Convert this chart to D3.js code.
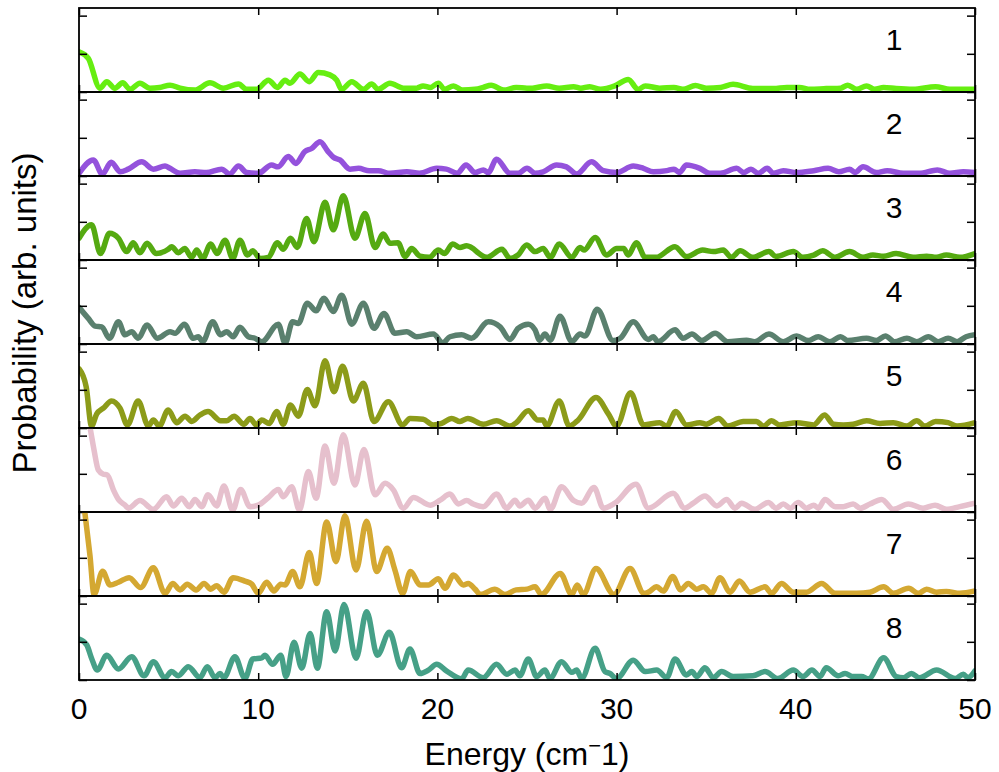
<!DOCTYPE html>
<html>
<head>
<meta charset="utf-8">
<script src="https://cdn.jsdelivr.net/npm/d3@7"></script>
<style>
  body { margin: 0; background: #fff; }
  text { font-family: "Liberation Sans", Arial, Helvetica, sans-serif; fill: #000; }
</style>
</head>
<body>
<div id="app"></div>
<script>
// energy ticks and y ticks
const xTicks = [0, 10, 20, 30, 40, 50]
const yTicks = [0, 1, 2]
const panelLabels = ["1", "2", "3", "4", "5", "6", "7", "8"]
const colors = ["#66ee11", "#9452dc", "#55aa11", "#5a806e", "#8c9b19", "#e6c0cd", "#d4a832", "#46a087"]

// [energy, probability]
const s1 = [[0,1.05],[0.52,0.88],[1.17,0.1],[1.55,0.27],[2.0,0.1],[2.44,0.24],[2.85,0.07],[3.4,0.23],[3.96,0.1],[4.5,0.12],[5.08,0.18],[5.64,0.1],[6.47,0.05],[7.31,0.24],[8.05,0.1],[8.9,0.21],[9.36,0.07],[9.9,0.07],[10.57,0.31],[11.07,0.12],[11.5,0.31],[11.77,0.23],[12.33,0.47],[12.85,0.27],[13.35,0.51],[14.0,0.45],[14.38,0.31],[14.66,0.07],[15.22,0.27],[15.87,0.07],[16.33,0.21],[16.7,0.07],[17.35,0.23],[18.1,0.1],[18.84,0.1],[19.2,0.16],[19.6,0.12],[20.05,0.23],[20.4,0.07],[20.9,0.16],[21.4,0.05],[22.1,0.07],[22.56,0.12],[23.0,0.18],[23.7,0.05],[24.4,0.12],[25.0,0.1],[25.3,0.1],[26.1,0.16],[26.8,0.1],[27.6,0.14],[28.0,0.1],[28.5,0.14],[29.1,0.07],[29.9,0.16],[30.65,0.33],[31.2,0.07],[31.6,0.16],[32.4,0.1],[33.2,0.12],[33.7,0.07],[34.4,0.17],[35.0,0.1],[35.8,0.12],[36.5,0.2],[37.6,0.09],[38.75,0.09],[39.5,0.12],[40.2,0.12],[40.8,0.07],[41.7,0.09],[42.5,0.1],[42.9,0.18],[43.4,0.07],[43.95,0.16],[44.4,0.07],[44.9,0.12],[45.6,0.09],[46.55,0.07],[47.8,0.14],[48.6,0.07],[50,0.07]]
const s2 = [[0,0.07],[0.8,0.42],[1.3,0.05],[1.8,0.36],[2.3,0.11],[2.75,0.18],[3.5,0.37],[4.15,0.18],[4.8,0.26],[5.08,0.2],[5.64,0.07],[6.47,0.11],[7.1,0.09],[7.96,0.18],[8.4,0.05],[8.9,0.26],[9.36,0.09],[10.0,0.07],[10.75,0.29],[11.1,0.24],[11.68,0.51],[12.1,0.33],[12.6,0.64],[12.98,0.72],[13.45,0.9],[13.9,0.64],[14.2,0.49],[14.56,0.42],[15.12,0.18],[15.6,0.2],[16.2,0.14],[16.7,0.14],[17.35,0.07],[18.3,0.11],[19.0,0.07],[19.96,0.2],[20.5,0.18],[21.1,0.07],[21.6,0.29],[22.1,0.09],[22.56,0.16],[22.84,0.09],[23.3,0.44],[24.05,0.07],[24.5,0.07],[25.0,0.2],[25.45,0.07],[25.9,0.11],[26.65,0.29],[27.2,0.24],[27.77,0.05],[28.6,0.37],[29.26,0.14],[30.0,0.09],[30.93,0.26],[31.5,0.2],[32.05,0.11],[32.8,0.14],[33.2,0.18],[33.5,0.09],[33.9,0.29],[34.65,0.2],[35.2,0.07],[35.8,0.07],[36.7,0.2],[37.1,0.09],[37.5,0.18],[37.9,0.07],[38.4,0.2],[38.75,0.07],[39.3,0.14],[40.05,0.09],[41.0,0.14],[41.8,0.2],[42.4,0.11],[43.0,0.18],[43.3,0.09],[43.75,0.24],[44.5,0.09],[45.1,0.14],[46.0,0.07],[46.9,0.07],[47.9,0.16],[48.6,0.07],[49.35,0.11],[50,0.09]]
const s3 = [[0,0.57],[0.7,0.92],[1.2,0.17],[1.7,0.7],[2.2,0.57],[2.66,0.22],[3.03,0.45],[3.4,0.19],[3.8,0.44],[4.3,0.17],[4.98,0.28],[5.17,0.35],[5.54,0.19],[5.9,0.3],[6.29,0.07],[6.57,0.26],[6.9,0.04],[7.35,0.42],[7.7,0.17],[8.15,0.52],[8.58,0.04],[8.98,0.52],[9.4,0.13],[9.7,0.24],[10.1,0.04],[10.57,0.07],[11.07,0.45],[11.4,0.28],[11.8,0.57],[12.18,0.33],[12.7,1.09],[13.11,0.48],[13.73,1.51],[14.19,0.79],[14.75,1.68],[15.4,0.57],[15.96,1.22],[16.52,0.33],[16.98,0.68],[17.35,0.44],[17.8,0.45],[18.2,0.09],[18.56,0.3],[19.03,0.1],[19.55,0.07],[20.05,0.26],[20.4,0.17],[20.85,0.42],[21.26,0.33],[21.63,0.37],[22.75,0.07],[23.6,0.28],[24.05,0.04],[24.5,0.13],[24.98,0.39],[25.45,0.22],[25.9,0.3],[26.3,0.07],[26.8,0.42],[27.5,0.07],[27.96,0.33],[28.18,0.26],[28.8,0.59],[29.45,0.13],[30.0,0.3],[30.4,0.3],[30.65,0.13],[31.1,0.45],[31.6,0.07],[32.2,0.07],[33.26,0.35],[33.9,0.09],[34.8,0.26],[35.4,0.22],[35.95,0.26],[36.4,0.07],[36.9,0.24],[37.6,0.07],[38.5,0.22],[38.9,0.09],[39.86,0.22],[40.4,0.07],[41.0,0.13],[41.5,0.24],[42.2,0.07],[43.0,0.22],[43.75,0.07],[44.3,0.13],[44.9,0.1],[45.6,0.17],[46.55,0.07],[47.3,0.1],[47.85,0.07],[48.4,0.13],[49.15,0.07],[50,0.17]]
const s4 = [[0,0.96],[0.52,0.67],[0.9,0.47],[1.27,0.45],[1.7,0.15],[2.2,0.58],[2.57,0.24],[2.94,0.32],[3.3,0.15],[3.8,0.5],[4.37,0.15],[5.08,0.32],[5.36,0.28],[5.88,0.52],[6.38,0.15],[6.66,0.19],[6.9,0.06],[7.46,0.58],[7.9,0.24],[8.24,0.32],[8.6,0.19],[8.98,0.44],[9.45,0.19],[9.82,0.15],[10.2,0.06],[11.12,0.52],[11.5,0.02],[11.92,0.58],[12.24,0.54],[12.74,1.07],[13.23,0.87],[13.67,1.2],[14.19,0.85],[14.66,1.28],[15.22,0.52],[15.87,1.07],[16.46,0.41],[17.02,0.8],[17.63,0.28],[18.29,0.32],[18.84,0.19],[19.77,0.26],[20.3,0.03],[20.7,0.19],[21.35,0.24],[21.9,0.15],[22.84,0.58],[23.5,0.45],[24.05,0.12],[24.5,0.41],[25.07,0.52],[25.45,0.37],[25.7,0.1],[26.0,0.26],[26.3,0.1],[26.84,0.73],[27.5,0.06],[27.96,0.26],[28.24,0.21],[28.92,0.91],[29.8,0.09],[30.2,0.15],[30.93,0.58],[31.77,0.12],[32.05,0.19],[32.3,0.06],[33.26,0.37],[33.7,0.15],[34.2,0.26],[34.75,0.09],[35.5,0.28],[36.2,0.06],[37.25,0.1],[37.7,0.06],[38.5,0.26],[39.3,0.06],[40.05,0.21],[40.7,0.09],[41.25,0.19],[41.9,0.06],[42.5,0.19],[42.9,0.09],[43.95,0.15],[44.5,0.09],[45.0,0.21],[45.5,0.06],[46.2,0.15],[46.75,0.06],[47.4,0.19],[47.95,0.06],[48.5,0.15],[49.0,0.06],[49.5,0.19],[50,0.24]]
const s5 = [[0,1.55],[0.4,1.08],[0.7,0.05],[0.99,0.37],[1.36,0.52],[1.82,0.71],[2.29,0.52],[2.7,0.08],[3.3,0.71],[3.87,0.05],[4.15,0.21],[4.48,0.05],[4.98,0.47],[5.45,0.14],[5.92,0.31],[6.29,0.17],[6.75,0.34],[7.2,0.43],[7.9,0.19],[8.24,0.19],[8.65,0.31],[9.2,0.1],[9.54,0.25],[9.9,0.08],[10.2,0.21],[10.62,0.12],[11.03,0.43],[11.4,0.1],[11.8,0.6],[12.24,0.31],[12.74,1.01],[13.17,0.58],[13.73,1.76],[14.23,0.95],[14.71,1.62],[15.31,0.71],[15.87,1.17],[16.46,0.17],[17.26,0.69],[18.06,0.08],[18.47,0.25],[19.2,0.23],[19.77,0.08],[20.24,0.12],[20.8,0.25],[21.26,0.17],[21.7,0.25],[22.56,0.1],[23.3,0.19],[24.05,0.05],[24.4,0.14],[25.07,0.45],[25.6,0.21],[25.9,0.21],[26.1,0.05],[26.8,0.71],[27.36,0.05],[27.86,0.21],[28.85,0.8],[29.54,0.37],[30.0,0.05],[30.78,0.92],[31.5,0.08],[32.4,0.14],[32.8,0.05],[33.3,0.43],[33.9,0.08],[34.65,0.14],[35.0,0.1],[35.7,0.25],[36.2,0.05],[37.07,0.17],[37.8,0.17],[38.2,0.05],[38.65,0.19],[39.1,0.08],[40.05,0.14],[41.0,0.08],[41.6,0.34],[42.1,0.1],[42.65,0.08],[43.2,0.1],[43.95,0.19],[44.7,0.12],[45.45,0.14],[46.2,0.05],[46.75,0.19],[47.2,0.05],[47.8,0.17],[48.5,0.14],[49.0,0.05],[50,0.14]]
const s6 = [[0,3.2],[0.6,2.25],[0.84,1.62],[1.08,1.1],[1.36,0.99],[1.58,0.97],[1.92,0.58],[2.2,0.33],[2.57,0.18],[2.76,0.1],[3.4,0.3],[4.15,0.07],[4.89,0.4],[5.26,0.16],[5.73,0.36],[6.16,0.14],[6.47,0.33],[6.85,0.14],[7.2,0.45],[7.68,0.16],[8.09,0.68],[8.58,0.05],[9.02,0.59],[9.54,0.14],[10.0,0.18],[10.57,0.38],[11.12,0.59],[11.4,0.4],[11.87,0.66],[12.3,0.05],[12.8,1.06],[13.23,0.36],[13.73,1.73],[14.23,0.75],[14.75,2.02],[15.4,0.71],[15.9,1.64],[16.52,0.45],[17.08,0.75],[17.54,0.58],[18.1,0.1],[18.66,0.38],[19.6,0.18],[20.15,0.31],[20.7,0.47],[21.17,0.21],[21.63,0.3],[22.0,0.21],[22.56,0.14],[23.3,0.47],[23.87,0.1],[24.33,0.31],[24.6,0.16],[25.07,0.31],[25.45,0.1],[26.0,0.36],[26.3,0.07],[26.93,0.66],[27.6,0.3],[28.05,0.23],[28.74,0.64],[29.26,0.1],[29.9,0.23],[31.08,0.73],[31.77,0.1],[33.16,0.49],[33.8,0.1],[34.28,0.23],[34.93,0.42],[35.6,0.16],[36.14,0.33],[36.6,0.1],[36.98,0.23],[37.7,0.07],[38.47,0.25],[38.9,0.1],[39.3,0.21],[39.7,0.1],[40.14,0.25],[40.6,0.1],[41.0,0.18],[41.26,0.1],[41.63,0.33],[42.2,0.14],[42.65,0.14],[43.2,0.21],[43.6,0.1],[44.14,0.21],[44.8,0.33],[45.45,0.07],[46.28,0.21],[47.1,0.1],[47.77,0.18],[48.4,0.07],[49.15,0.14],[50,0.23]]
const s7 = [[0,3.5],[0.33,2.17],[0.61,1.07],[0.84,0.04],[1.32,0.65],[1.73,0.29],[2.2,0.36],[2.8,0.48],[3.44,0.22],[4.15,0.74],[4.8,0.07],[5.23,0.33],[5.64,0.16],[6.04,0.31],[6.53,0.16],[6.98,0.33],[7.35,0.18],[7.68,0.27],[8.09,0.1],[8.6,0.48],[9.26,0.39],[9.64,0.31],[10.0,0.07],[10.47,0.36],[10.88,0.13],[11.26,0.31],[11.5,0.29],[11.92,0.64],[12.33,0.24],[12.85,1.14],[13.26,0.33],[13.82,1.94],[14.34,0.9],[14.84,2.1],[15.46,0.68],[16.05,1.96],[16.61,0.64],[17.2,1.25],[17.63,0.68],[18.06,0.07],[18.5,0.64],[19.03,0.29],[19.5,0.29],[20.05,0.45],[20.43,0.2],[20.9,0.55],[21.45,0.29],[21.72,0.33],[22.1,0.18],[22.4,0.04],[23.2,0.18],[23.77,0.04],[24.4,0.16],[25.0,0.18],[25.45,0.24],[25.8,0.04],[26.86,0.59],[27.5,0.04],[27.8,0.29],[28.14,0.04],[28.85,0.72],[29.85,0.04],[30.75,0.72],[31.53,0.07],[31.77,0.1],[32.24,0.24],[32.6,0.13],[33.13,0.51],[33.57,0.16],[34.0,0.33],[34.47,0.18],[34.84,0.24],[35.3,0.07],[35.77,0.48],[36.33,0.1],[36.85,0.39],[37.45,0.1],[38.28,0.24],[38.65,0.07],[39.2,0.33],[39.86,0.1],[40.6,0.1],[41.44,0.33],[42.19,0.07],[43.4,0.07],[44.14,0.1],[44.9,0.24],[45.45,0.07],[46.3,0.2],[46.84,0.07],[47.3,0.18],[47.86,0.1],[48.4,0.12],[49.15,0.07],[50,0.13]]
const s8 = [[0,1.07],[0.43,0.92],[0.7,0.57],[1.02,0.26],[1.55,0.65],[2.2,0.29],[2.94,0.61],[3.63,0.11],[4.15,0.48],[4.8,0.06],[5.17,0.22],[5.54,0.11],[6.1,0.35],[6.75,0.06],[7.16,0.35],[7.59,0.06],[7.87,0.17],[8.09,0.06],[8.7,0.61],[9.26,0.04],[9.7,0.55],[10.2,0.58],[10.38,0.65],[10.8,0.41],[11.26,0.65],[11.55,0.09],[12.0,0.99],[12.43,0.31],[12.9,1.22],[13.3,0.31],[13.82,1.79],[14.29,0.76],[14.79,1.98],[15.46,0.57],[16.05,1.79],[16.65,0.65],[17.32,1.25],[18.0,0.32],[18.47,0.81],[19.03,0.17],[19.5,0.26],[19.96,0.41],[20.5,0.24],[21.35,0.03],[21.72,0.26],[22.56,0.06],[23.3,0.41],[23.87,0.15],[24.33,0.26],[24.6,0.11],[25.07,0.55],[25.54,0.09],[26.0,0.26],[26.28,0.04],[26.93,0.48],[27.5,0.2],[27.77,0.26],[28.05,0.04],[28.8,0.83],[29.35,0.22],[29.63,0.17],[30.0,0.04],[30.93,0.52],[31.6,0.22],[32.24,0.26],[32.8,0.06],[33.26,0.55],[33.9,0.13],[34.2,0.22],[34.47,0.09],[34.93,0.32],[35.4,0.06],[35.86,0.22],[36.5,0.09],[37.6,0.11],[38.28,0.22],[39.0,0.04],[39.86,0.26],[40.4,0.09],[40.9,0.26],[41.35,0.09],[41.7,0.32],[42.37,0.11],[42.75,0.17],[43.2,0.09],[43.67,0.09],[44.05,0.03],[44.9,0.58],[45.6,0.09],[46.0,0.06],[46.45,0.17],[46.9,0.06],[47.86,0.26],[48.9,0.04],[49.35,0.15],[49.6,0.06],[50,0.24]]

const series = [s1, s2, s3, s4, s5, s6, s7, s8]

let width = 999
let height = 772
let plotLeft = 79, plotRight = 975, plotTop = 8
let panelH = 84

let svg = d3.select("#app").append("svg")
    .attr("width", width)
    .attr("height", height)

let x = d3.scaleLinear().domain([0, 50]).range([plotLeft, plotRight])

series.forEach((data, i) => {
    let y0 = plotTop + i * panelH
    let y = d3.scaleLinear().domain([0, 2.2]).range([y0 + panelH, y0])
    let g = svg.append("g")

    g.append("clipPath").attr("id", "clip" + i)
        .append("rect")
        .attr("x", plotLeft).attr("y", y0)
        .attr("width", plotRight - plotLeft).attr("height", panelH)

    let line = d3.line()
        .x(d => x(d[0]))
        .y(d => y(d[1]))
        .curve(d3.curveMonotoneX)

    g.append("path")
        .datum(data)
        .attr("clip-path", "url(#clip" + i + ")")
        .attr("fill", "none")
        .attr("stroke", colors[i])
        .attr("stroke-width", 5.5)
        .attr("stroke-linejoin", "round")
        .attr("stroke-linecap", "round")
        .attr("d", line)

    // inward ticks on all four sides
    let axes = [
        [d3.axisBottom(x).tickValues(xTicks).tickSize(-7), y0 + panelH, "x"],
        [d3.axisTop(x).tickValues(xTicks).tickSize(-7), y0, "x"],
        [d3.axisLeft(y).tickValues(yTicks).tickSize(-8), plotLeft, "y"],
        [d3.axisRight(y).tickValues(yTicks).tickSize(-8), plotRight, "y"]
    ]
    axes.forEach(([ax, pos, kind]) => {
        let a = g.append("g")
            .attr("transform", kind == "x" ? `translate(0,${pos})` : `translate(${pos},0)`)
            .call(ax.tickSizeOuter(0).tickFormat(""))
        a.select(".domain").remove()
        a.selectAll("line").attr("stroke", "#000").attr("stroke-width", 1.5)
    })

    g.append("rect")
        .attr("x", plotLeft).attr("y", y0)
        .attr("width", plotRight - plotLeft).attr("height", panelH)
        .attr("fill", "none")
        .attr("stroke", "#000")
        .attr("stroke-width", 1.8)

    g.append("text")
        .attr("x", 894)
        .attr("y", y0 + 42)
        .attr("text-anchor", "middle")
        .style("font-size", "30px")
        .text(panelLabels[i])
})

// tick labels under the bottom panel
svg.append("g").selectAll("text")
    .data(xTicks)
    .enter().append("text")
    .attr("x", d => x(d))
    .attr("y", plotTop + 8 * panelH + 39)
    .attr("text-anchor", "middle")
    .style("font-size", "30px")
    .text(d => d)

let xl = svg.append("text")
    .attr("x", (plotLeft + plotRight) / 2)
    .attr("y", 765)
    .attr("text-anchor", "middle")
    .style("font-size", "32px")
xl.append("tspan").text("Energy (cm")
xl.append("tspan").attr("dy", -12).style("font-size", "22px").text("\u2212")
xl.append("tspan").attr("dy", 12).text("1)")

svg.append("text")
    .attr("transform", "translate(36,313) rotate(-90)")
    .attr("text-anchor", "middle")
    .style("font-size", "33px")
    .text("Probability (arb. units)")
</script>
</body>
</html>
